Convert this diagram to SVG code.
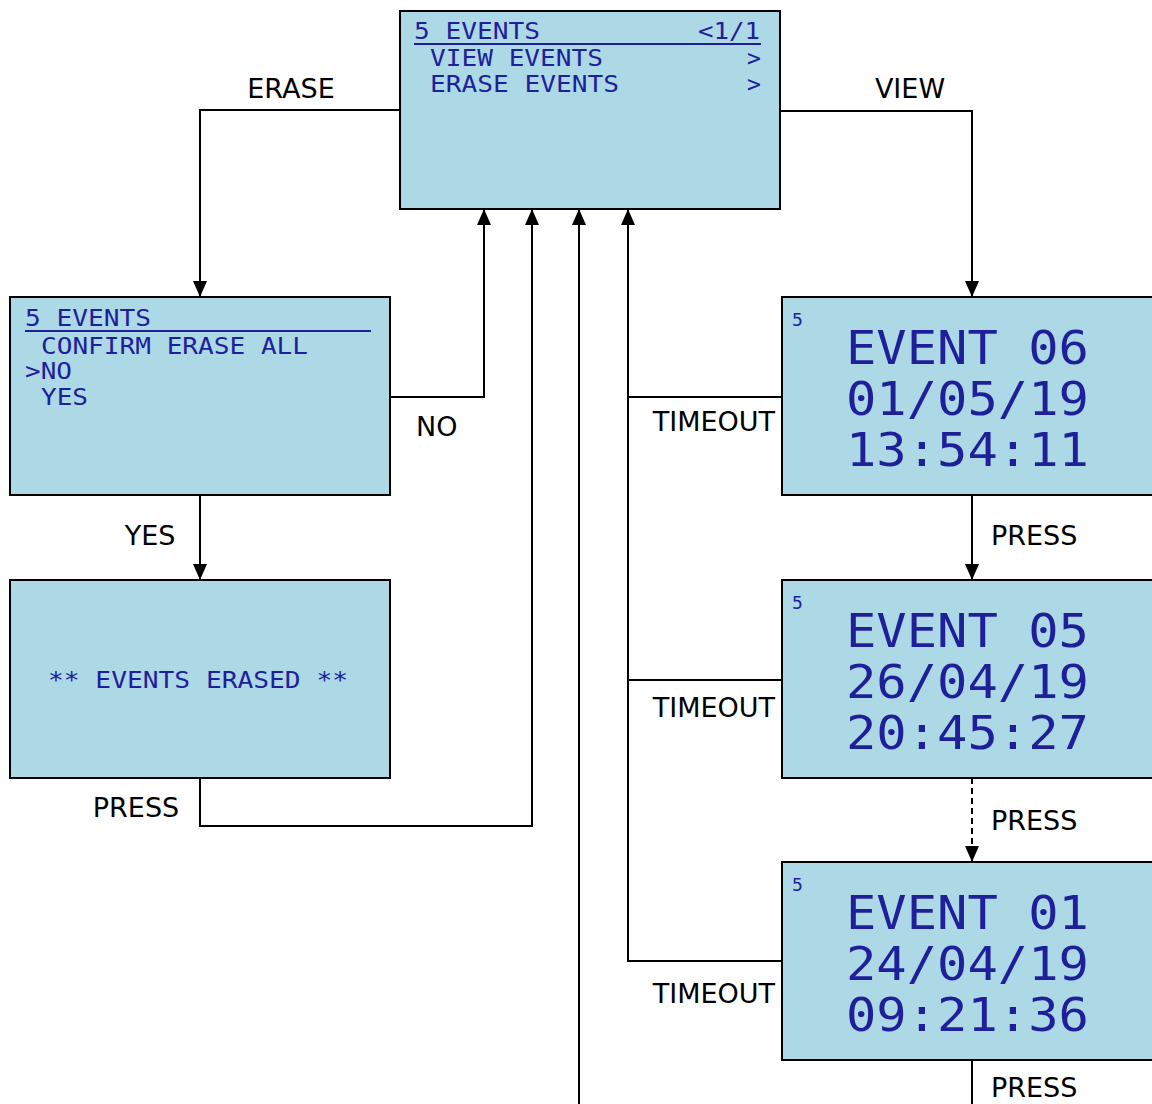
<svg xmlns="http://www.w3.org/2000/svg" width="1152" height="1104" viewBox="0 0 1152 1104">
<style>
.box{fill:#add8e6;stroke:#000;stroke-width:2}
.lcd{font-family:"DejaVu Sans Mono","Liberation Mono",monospace;fill:#1f1f9a;font-size:23px}
.big{font-family:"DejaVu Sans Mono","Liberation Mono",monospace;fill:#1f1f9a;font-size:46px}
.sm{font-family:"DejaVu Sans Mono","Liberation Mono",monospace;fill:#1f1f9a;font-size:18px}
.lbl{font-family:"DejaVu Sans","Verdana",sans-serif;font-size:27px;fill:#000}
.ln{fill:none;stroke:#000;stroke-width:2}
.ul{stroke:#1f1f9a;stroke-width:2}
</style>
<defs>
<marker id="ah" viewBox="0 0 16 14" refX="16" refY="7" markerWidth="16" markerHeight="14" markerUnits="userSpaceOnUse" orient="auto">
<path d="M0,0 L16,7 L0,14 Z" fill="#000"/>
</marker>
</defs>
<rect width="1152" height="1104" fill="#fff"/>
<g id="connectors">
<path class="ln" d="M400,110 H200 V297" marker-end="url(#ah)"/>
<path class="ln" d="M780,111 H972 V297" marker-end="url(#ah)"/>
<path class="ln" d="M390,397 H484 V209" marker-end="url(#ah)"/>
<path class="ln" d="M200,495 V580" marker-end="url(#ah)"/>
<path class="ln" d="M200,778 V826 H532 V209" marker-end="url(#ah)"/>
<path class="ln" d="M579,1104 V209" marker-end="url(#ah)"/>
<path class="ln" d="M782,961 H628 V209" marker-end="url(#ah)"/>
<path class="ln" d="M782,397 H628"/>
<path class="ln" d="M782,680 H628"/>
<path class="ln" d="M972,495 V580" marker-end="url(#ah)"/>
<path class="ln" d="M972,778 V862" stroke-dasharray="6,4" marker-end="url(#ah)"/>
<path class="ln" d="M972,1060 V1104"/>
<text class="lbl" x="291" y="98" text-anchor="middle">ERASE</text>
<text class="lbl" x="910" y="98" text-anchor="middle">VIEW</text>
<text class="lbl" x="416" y="436">NO</text>
<text class="lbl" x="150" y="545" text-anchor="middle">YES</text>
<text class="lbl" x="136" y="817" text-anchor="middle">PRESS</text>
<text class="lbl" x="775" y="431" text-anchor="end">TIMEOUT</text>
<text class="lbl" x="775" y="717" text-anchor="end">TIMEOUT</text>
<text class="lbl" x="775" y="1003" text-anchor="end">TIMEOUT</text>
<text class="lbl" x="991" y="545">PRESS</text>
<text class="lbl" x="991" y="830">PRESS</text>
<text class="lbl" x="991" y="1097">PRESS</text>
</g>
<g id="menu">
<rect class="box" x="400" y="11" width="380" height="198"/>
<text class="lcd" x="414" y="39" textLength="126" lengthAdjust="spacingAndGlyphs">5 EVENTS</text>
<text class="lcd" x="698" y="39" textLength="62" lengthAdjust="spacingAndGlyphs">&lt;1/1</text>
<line class="ul" x1="414" y1="44" x2="761" y2="44"/>
<text class="lcd" x="430" y="66" textLength="173" lengthAdjust="spacingAndGlyphs">VIEW EVENTS</text>
<text class="lcd" x="747" y="66">&gt;</text>
<text class="lcd" x="430" y="92" textLength="189" lengthAdjust="spacingAndGlyphs">ERASE EVENTS</text>
<text class="lcd" x="747" y="92">&gt;</text>
</g>
<g id="confirm">
<rect class="box" x="10" y="297" width="380" height="198"/>
<text class="lcd" x="25" y="326" textLength="126" lengthAdjust="spacingAndGlyphs">5 EVENTS</text>
<line class="ul" x1="25" y1="331" x2="371" y2="331"/>
<text class="lcd" x="41" y="354" textLength="267" lengthAdjust="spacingAndGlyphs">CONFIRM ERASE ALL</text>
<text class="lcd" x="25" y="379" textLength="47" lengthAdjust="spacingAndGlyphs">&gt;NO</text>
<text class="lcd" x="41" y="405" textLength="47" lengthAdjust="spacingAndGlyphs">YES</text>
</g>
<g id="erased">
<rect class="box" x="10" y="580" width="380" height="198"/>
<text class="lcd" x="48" y="688" textLength="300" lengthAdjust="spacingAndGlyphs">** EVENTS ERASED **</text>
</g>
<g id="event06">
<rect class="box" x="782" y="297" width="380" height="198"/>
<text class="sm" x="792" y="326">5</text>
<text class="big" x="846" y="364" textLength="243" lengthAdjust="spacingAndGlyphs">EVENT 06</text>
<text class="big" x="846" y="415" textLength="243" lengthAdjust="spacingAndGlyphs">01/05/19</text>
<text class="big" x="846" y="466" textLength="243" lengthAdjust="spacingAndGlyphs">13:54:11</text>
</g>
<g id="event05">
<rect class="box" x="782" y="580" width="380" height="198"/>
<text class="sm" x="792" y="609">5</text>
<text class="big" x="846" y="647" textLength="243" lengthAdjust="spacingAndGlyphs">EVENT 05</text>
<text class="big" x="846" y="698" textLength="243" lengthAdjust="spacingAndGlyphs">26/04/19</text>
<text class="big" x="846" y="749" textLength="243" lengthAdjust="spacingAndGlyphs">20:45:27</text>
</g>
<g id="event01">
<rect class="box" x="782" y="862" width="380" height="198"/>
<text class="sm" x="792" y="891">5</text>
<text class="big" x="846" y="929" textLength="243" lengthAdjust="spacingAndGlyphs">EVENT 01</text>
<text class="big" x="846" y="980" textLength="243" lengthAdjust="spacingAndGlyphs">24/04/19</text>
<text class="big" x="846" y="1031" textLength="243" lengthAdjust="spacingAndGlyphs">09:21:36</text>
</g>
</svg>
